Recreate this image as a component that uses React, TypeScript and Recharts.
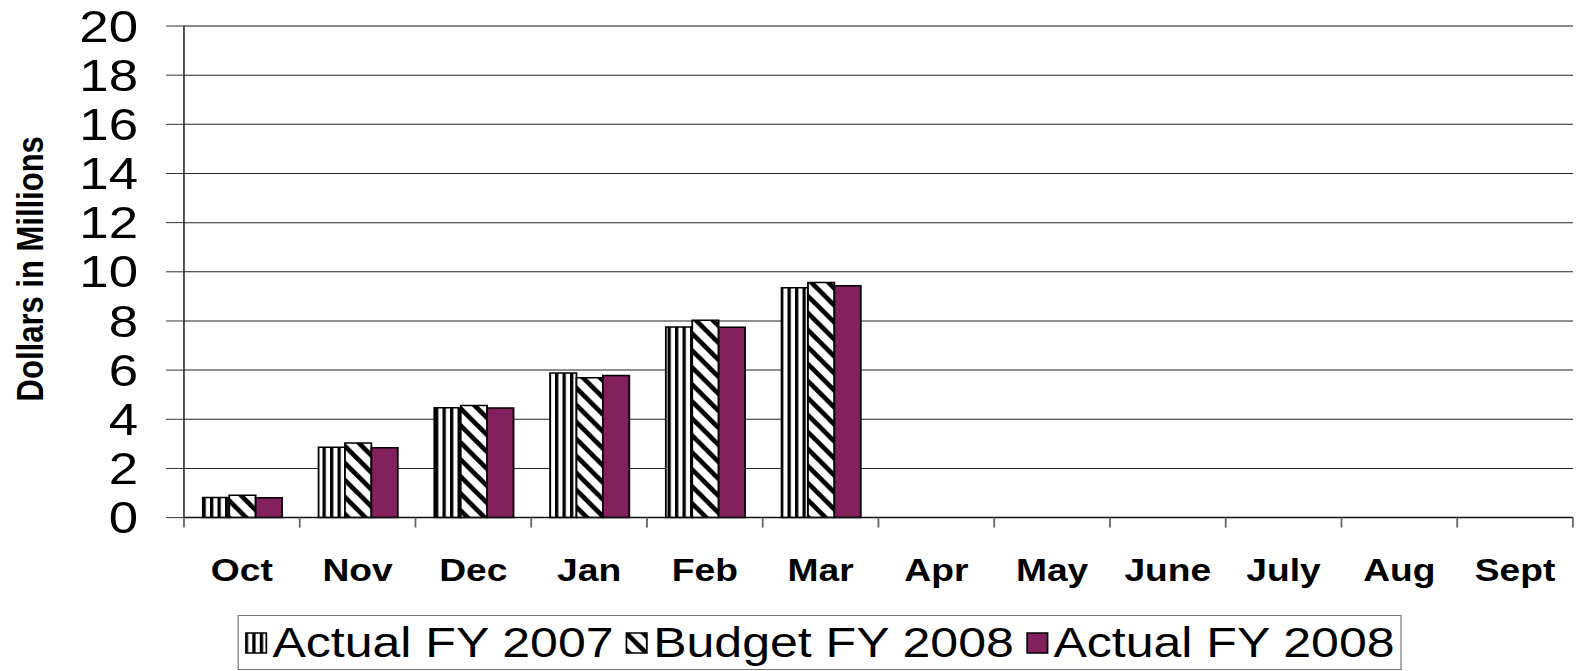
import React from 'react';
import {
  BarChart,
  Bar,
  XAxis,
  YAxis,
  CartesianGrid,
  ReferenceLine,
  Legend,
} from 'recharts';

const MONTHS = ['Oct', 'Nov', 'Dec', 'Jan', 'Feb', 'Mar', 'Apr', 'May', 'June', 'July', 'Aug', 'Sept'];
const ACTUAL_FY2007 = [0.82, 2.86, 4.47, 5.88, 7.75, 9.35, null, null, null, null, null, null];
const BUDGET_FY2008 = [0.91, 3.03, 4.56, 5.69, 8.03, 9.56, null, null, null, null, null, null];
const ACTUAL_FY2008 = [0.81, 2.84, 4.46, 5.78, 7.74, 9.43, null, null, null, null, null, null];
const Y_TICKS = [0, 2, 4, 6, 8, 10, 12, 14, 16, 18, 20];

const SERIES = [
  { key: 'actual2007', name: 'Actual FY 2007', fill: 'url(#vstripes)' },
  { key: 'budget2008', name: 'Budget FY 2008', fill: 'url(#dstripes)' },
  { key: 'actual2008', name: 'Actual FY 2008', fill: '#83215F' },
];

const data = MONTHS.map((month, i) => ({
  month,
  actual2007: ACTUAL_FY2007[i],
  budget2008: BUDGET_FY2008[i],
  actual2008: ACTUAL_FY2008[i],
}));

// the source picture is stretched sideways, so the whole chart is drawn narrow and scaled
const STRETCH = 1.2;
const WIDTH = 1315;
const HEIGHT = 671;
const AXIS_W = 153.3;
const MARGIN = { top: 26, right: 4.2, bottom: 93.4, left: 0 };
const BAND = (WIDTH - MARGIN.right - AXIS_W) / MONTHS.length;
const FONT = '"Liberation Sans", Arial, sans-serif';

const PatternDefs = () => (
  <defs>
    <pattern id="vstripes" patternUnits="userSpaceOnUse" width={6.25} height={10}>
      <rect width={6.25} height={10} fill="#fff" />
      <rect width={2.75} height={10} fill="#000" />
    </pattern>
    <pattern id="dstripes" patternUnits="userSpaceOnUse" width={14.2} height={17}>
      <rect width={14.2} height={17} fill="#fff" />
      <path
        d="M0,0 L14.2,17 M0,-17 L28.4,17 M-14.2,0 L14.2,34"
        stroke="#000"
        strokeWidth={4.3}
      />
    </pattern>
  </defs>
);

const MonthTick = (props: any) => {
  const { x, y, payload, index } = props;
  const half = BAND / 2;
  return (
    <g>
      <line x1={x - half} x2={x - half} y1={y} y2={y + 10} stroke="#666" strokeWidth={1.5} />
      {index === MONTHS.length - 1 && (
        <line x1={x + half} x2={x + half} y1={y} y2={y + 10} stroke="#666" strokeWidth={1.5} />
      )}
      <text
        x={x}
        y={y + 63}
        textAnchor="middle"
        fill="#000"
        style={{ fontFamily: FONT, fontSize: 31, fontWeight: 'bold' }}
      >
        {payload.value}
      </text>
    </g>
  );
};

const YTitle = (props: any) => {
  const { viewBox } = props;
  const cy = viewBox.y + viewBox.height / 2 - 3;
  return (
    <text
      x={25}
      y={cy}
      transform={`rotate(-90, 25, ${cy})`}
      textAnchor="middle"
      dominantBaseline="central"
      fill="#000"
      style={{ fontFamily: FONT, fontSize: 31, fontWeight: 'bold' }}
    >
      Dollars in Millions
    </text>
  );
};

const LegendBox = () => (
  <div
    style={{
      display: 'inline-flex',
      alignItems: 'center',
      height: 55,
      boxSizing: 'border-box',
      border: '1.5px solid #777',
      padding: '0 5px',
      gap: 10,
      background: '#fff',
      fontFamily: FONT,
      fontSize: 41.7,
      color: '#000',
      whiteSpace: 'nowrap',
    }}
  >
    {SERIES.map((s) => (
      <span key={s.key} style={{ display: 'inline-flex', alignItems: 'center', gap: 4 }}>
        <svg width={19} height={22}>
          <rect x={1} y={1} width={17} height={20} fill={s.fill} stroke="#000" strokeWidth={1.5} />
        </svg>
        {s.name}
      </span>
    ))}
  </div>
);

export default function App() {
  return (
    <div
      style={{
        position: 'fixed',
        left: 0,
        top: 0,
        width: WIDTH,
        height: HEIGHT,
        background: '#fff',
        transform: `scaleX(${STRETCH})`,
        transformOrigin: '0 0',
      }}
    >
      <BarChart
        width={WIDTH}
        height={HEIGHT}
        data={data}
        margin={MARGIN}
        barCategoryGap="16.3%"
        barGap={0}
      >
        <PatternDefs />
        <CartesianGrid vertical={false} stroke="#222" strokeWidth={1} yAxisId="left" />
        <XAxis
          dataKey="month"
          yAxisId="left"
          interval={0}
          tickLine={false}
          tickSize={0}
          tickMargin={0}
          height={60}
          axisLine={{ stroke: '#111', strokeWidth: 1.5 }}
          tick={<MonthTick />}
        />
        <YAxis
          yAxisId="left"
          width={AXIS_W}
          domain={[0, 20]}
          ticks={Y_TICKS}
          interval={0}
          tickSize={15}
          tickMargin={23.3}
          axisLine={{ stroke: '#111', strokeWidth: 1.2 }}
          tickLine={{ stroke: '#333' }}
          tick={{ fill: '#000', fontSize: 44, fontFamily: FONT }}
          label={<YTitle />}
        />
        <YAxis
          yAxisId="right"
          orientation="right"
          width={0}
          tick={false}
          tickLine={false}
          axisLine={{ stroke: '#888', strokeWidth: 2 }}
        />
        <ReferenceLine y={20} yAxisId="left" stroke="#888" strokeWidth={2} />
        <Legend
          layout="horizontal"
          verticalAlign="middle"
          align="center"
          content={<LegendBox />}
          wrapperStyle={{ left: 198, top: 615, width: 'auto', height: 55 }}
        />
        {SERIES.map((s) => (
          <Bar
            key={s.key}
            yAxisId="left"
            dataKey={s.key}
            name={s.name}
            fill={s.fill}
            stroke="#000"
            strokeWidth={1.5}
            isAnimationActive={false}
          />
        ))}
      </BarChart>
    </div>
  );
}
